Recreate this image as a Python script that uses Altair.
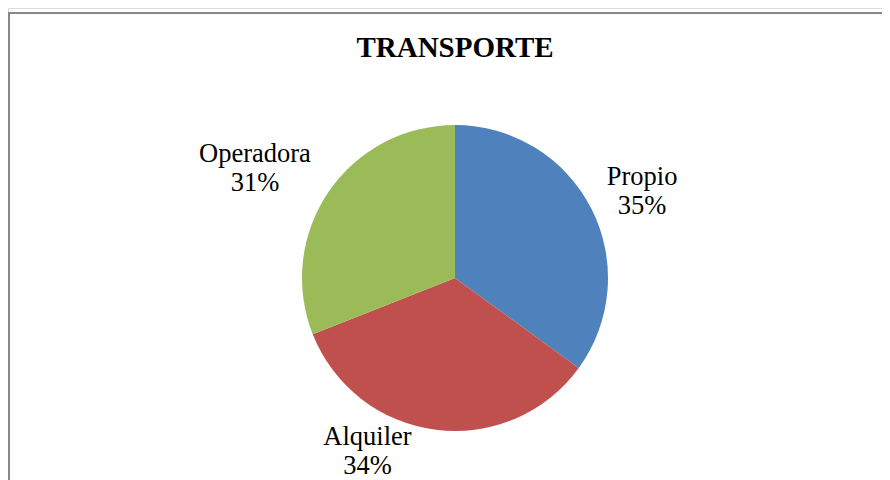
import altair as alt
import pandas as pd

# ---- data ----
categories = ["Propio", "Alquiler", "Operadora"]
percent = [35, 34, 31]
colors = ["#4F81BD", "#C0504D", "#9BBB59"]
title_text = ["TRANSPORTE"]

df = pd.DataFrame({
    "category": categories,
    "value": percent,
    "order": list(range(len(categories))),
})
df["label"] = [f"{c}\n{v}%" for c, v in zip(categories, percent)]

# ---- layout (not data) ----
W, H = 874, 472
CX, CY = 447, 270
R = 153
FONT = "Liberation Serif"
label_layout = {
    "Propio": dict(radius=210, dx=0, dy=-6),
    "Alquiler": dict(radius=180, dx=-65, dy=-20),
    "Operadora": dict(radius=225, dx=-14, dy=2),
}

base = alt.Chart(df)

pie = base.mark_arc(outerRadius=R).encode(
    theta=alt.Theta("value:Q", stack=True),
    order=alt.Order("order:Q"),
    color=alt.Color("category:N", scale=alt.Scale(domain=categories, range=colors), legend=None),
    x=alt.value(CX),
    y=alt.value(CY),
)

lab_base = base.transform_window(
    cum="sum(value)", sort=[alt.SortField("order")]
).transform_calculate(mid="datum.cum - datum.value / 2")

label_layers = []
for c in categories:
    p = label_layout[c]
    label_layers.append(
        lab_base.transform_filter(alt.datum.category == c).mark_text(
            radius=p["radius"], dx=p["dx"], dy=p["dy"], font=FONT, fontSize=26.5,
            lineBreak="\n", lineHeight=29, align="center", baseline="middle", color="#000000",
        ).encode(
            theta=alt.Theta("mid:Q", stack=None),
            text="label:N",
            x=alt.value(CX),
            y=alt.value(CY),
        )
    )

title = alt.Chart(pd.DataFrame({"t": title_text})).mark_text(
    font=FONT, fontSize=29, fontWeight="bold", align="center", baseline="middle", color="#000000"
).encode(text="t:N", x=alt.value(CX), y=alt.value(40))

border_df = pd.DataFrame({"k": [0]})
top_rule = alt.Chart(border_df).mark_rule(color="#888888", strokeWidth=2).encode(
    x=alt.value(0), x2=alt.value(W), y=alt.value(5)
)
left_rule = alt.Chart(border_df).mark_rule(color="#888888", strokeWidth=2).encode(
    x=alt.value(1), y=alt.value(4), y2=alt.value(H)
)

chart = alt.layer(pie, *label_layers, title, top_rule, left_rule).properties(
    width=W, height=H, autosize=alt.AutoSizeParams(type="none"), padding=0
).configure_view(stroke=None).configure(background="#ffffff")

chart.save("out.html", embed_options={"renderer": "svg", "actions": False})
